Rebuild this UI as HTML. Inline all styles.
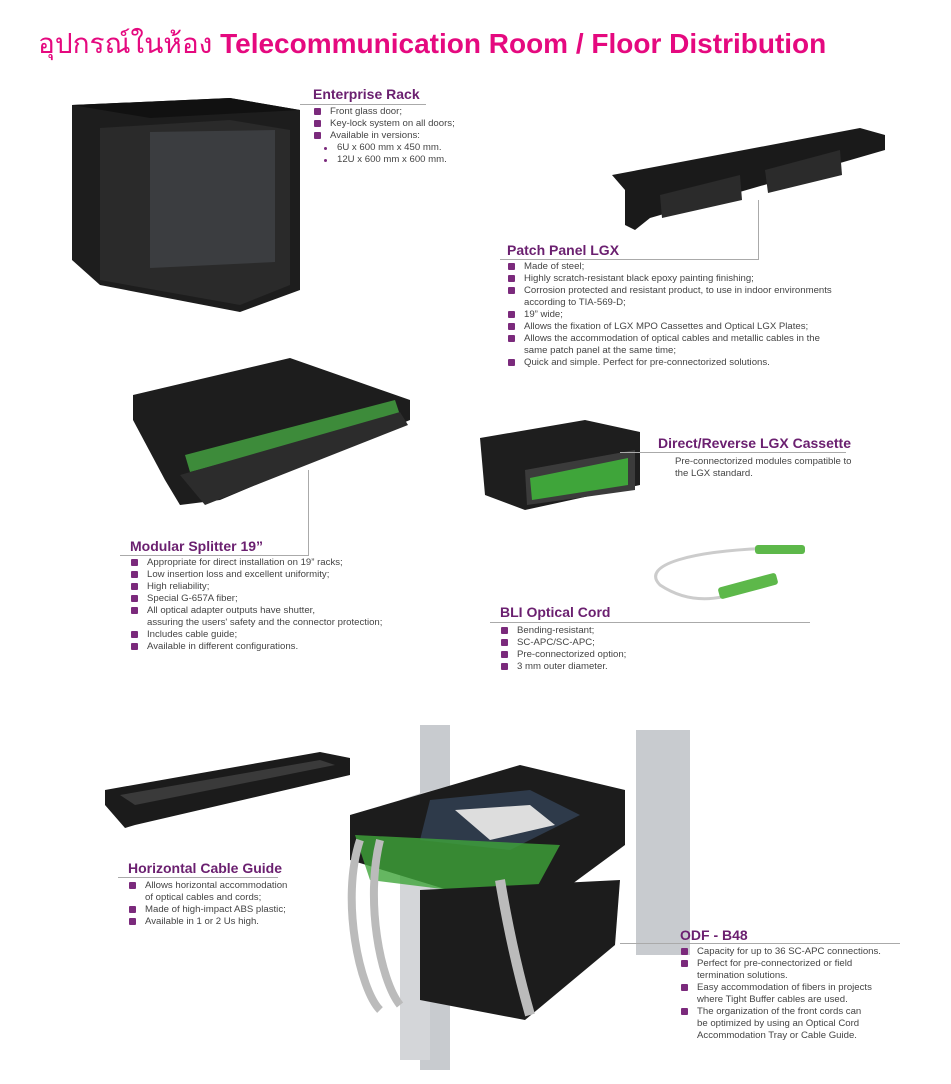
<!DOCTYPE html>
<html><head><meta charset="utf-8"><style>
body{margin:0;background:#fff;}
#p{position:relative;width:951px;height:1084px;overflow:hidden;font-family:"Liberation Sans","Noto Sans CJK SC",sans-serif;}
.t{position:absolute;left:38px;top:22px;font-size:28px;font-weight:bold;color:#e5097f;white-space:nowrap;font-family:"Liberation Sans","Noto Sans CJK SC","WenQuanYi Zen Hei",sans-serif;}
.t span{font-weight:normal;}
.h{position:absolute;font-size:14px;font-weight:bold;color:#6b2070;white-space:nowrap;}
.ln{position:absolute;background:#aaa;}
ul{position:absolute;margin:0;padding:0;list-style:none;font-size:9.6px;line-height:12px;color:#444;}
ul li{position:relative;padding-left:17px;white-space:nowrap;}
ul li.c:before{content:"";position:absolute;left:1px;top:2px;width:7px;height:7px;background:#7b2a7c;border-radius:1px;}
ul li.s{padding-left:24px;}
ul li.s:before{content:"";position:absolute;left:11px;top:5px;width:3px;height:3px;background:#7b2a7c;border-radius:50%;}
svg{position:absolute;left:0;top:0;}
</style></head><body><div id="p">
<svg width="951" height="1084">
<polygon points="72,105 230,98 300,110 300,290 240,312 100,285 72,260" fill="#1d1d1d"/>
<polygon points="100,128 230,120 290,130 290,285 240,305 100,280" fill="#2a2a2a"/>
<polygon points="150,132 275,130 275,262 150,268" fill="#3b3d40"/>
<polygon points="72,105 230,98 300,110 150,118" fill="#111"/>
<polygon points="612,175 860,128 885,135 885,150 650,218 635,230 625,225 625,190" fill="#1a1a1a"/>
<polygon points="660,195 740,175 742,200 662,218" fill="#2b2b2b"/>
<polygon points="765,170 840,150 842,175 768,193" fill="#2b2b2b"/>
<polygon points="133,395 290,358 410,400 410,420 220,500 180,505 165,480 133,420" fill="#1d1d1d"/>
<polygon points="185,455 395,400 400,415 190,472" fill="#3d8b3a"/>
<polygon points="180,475 400,412 408,425 205,505" fill="#2c2c2c"/>
<polygon points="480,438 585,420 640,432 640,485 525,510 485,495" fill="#1e1e1e"/>
<polygon points="525,470 635,450 635,490 527,505" fill="#3b3b3b"/>
<polygon points="530,478 628,458 628,485 532,500" fill="#3fa53a"/>
<path d="M780,548 C690,550 640,565 660,585 C690,605 720,600 745,590" stroke="#ccc" stroke-width="3" fill="none"/>
<rect x="755" y="545" width="50" height="9" fill="#5db84a" rx="3"/>
<rect x="718" y="580" width="60" height="12" fill="#5db84a" rx="3" transform="rotate(-15 748 586)"/>
<polygon points="105,790 320,752 350,758 350,775 135,825 125,828 105,805" fill="#1b1b1b"/>
<polygon points="120,795 320,760 335,765 135,805" fill="#3a3a3a"/>
<polygon points="420,725 450,725 450,1070 420,1070" fill="#c8cbcf"/>
<polygon points="636,730 690,730 690,955 636,955" fill="#c8cbcf"/>
<polygon points="400,800 430,790 430,1060 400,1060" fill="#d4d6d9"/>
<polygon points="350,815 520,765 625,790 625,845 530,915 350,860" fill="#1c1c1c"/>
<polygon points="430,800 530,790 580,815 510,850 420,840" fill="#2e3a4a"/>
<polygon points="455,810 530,805 555,825 490,840" fill="#ddd"/>
<polygon points="355,835 560,845 530,900 370,880" fill="#3fa53a" opacity="0.8"/>
<polygon points="420,890 620,880 615,945 525,1020 420,1000" fill="#1c1c1c"/>
<path d="M360,840 C340,900 360,990 380,1010 M380,840 C365,900 380,980 400,1005" stroke="#bbb" stroke-width="8" fill="none"/>
<path d="M500,880 C510,940 520,980 530,1015" stroke="#bbb" stroke-width="10" fill="none"/>
</svg>

<div class="t"><span>อุปกรณ์ในห้อง</span> Telecommunication Room / Floor Distribution</div>

<div class="h" style="left:313px;top:86px">Enterprise Rack</div>
<div class="ln" style="left:300px;top:104px;width:126px;height:1px"></div>
<ul style="left:313px;top:106px"><li class="c">Front glass door;</li><li class="c">Key-lock system on all doors;</li><li class="c">Available in versions:</li><li class="s">6U x 600 mm x 450 mm.</li><li class="s">12U x 600 mm x 600 mm.</li></ul>

<div class="ln" style="left:758px;top:200px;width:1px;height:59px"></div>
<div class="h" style="left:507px;top:242px">Patch Panel LGX</div>
<div class="ln" style="left:500px;top:259px;width:259px;height:1px"></div>
<ul style="left:507px;top:261px"><li class="c">Made of steel;</li><li class="c">Highly scratch-resistant black epoxy painting finishing;</li><li class="c">Corrosion protected and resistant product, to use in indoor environments<br>according to TIA-569-D;</li><li class="c">19” wide;</li><li class="c">Allows the fixation of LGX MPO Cassettes and Optical LGX Plates;</li><li class="c">Allows the accommodation of optical cables and metallic cables in the<br>same patch panel at the same time;</li><li class="c">Quick and simple. Perfect for pre-connectorized solutions.</li></ul>

<div class="ln" style="left:308px;top:470px;width:1px;height:86px"></div>
<div class="h" style="left:130px;top:538px">Modular Splitter 19”</div>
<div class="ln" style="left:120px;top:555px;width:189px;height:1px"></div>
<ul style="left:130px;top:557px"><li class="c">Appropriate for direct installation on 19” racks;</li><li class="c">Low insertion loss and excellent uniformity;</li><li class="c">High reliability;</li><li class="c">Special G-657A fiber;</li><li class="c">All optical adapter outputs have shutter,<br>assuring the users' safety and the connector protection;</li><li class="c">Includes cable guide;</li><li class="c">Available in different configurations.</li></ul>

<div class="h" style="left:658px;top:435px">Direct/Reverse LGX Cassette</div>
<div class="ln" style="left:620px;top:452px;width:226px;height:1px"></div>
<ul style="left:658px;top:456px"><li>Pre-connectorized modules compatible to<br>the LGX standard.</li></ul>

<div class="h" style="left:500px;top:604px">BLI Optical Cord</div>
<div class="ln" style="left:490px;top:622px;width:320px;height:1px"></div>
<ul style="left:500px;top:625px"><li class="c">Bending-resistant;</li><li class="c">SC-APC/SC-APC;</li><li class="c">Pre-connectorized option;</li><li class="c">3 mm outer diameter.</li></ul>

<div class="h" style="left:128px;top:860px">Horizontal Cable Guide</div>
<div class="ln" style="left:118px;top:877px;width:160px;height:1px"></div>
<ul style="left:128px;top:880px"><li class="c">Allows horizontal accommodation<br>of optical cables and cords;</li><li class="c">Made of high-impact ABS plastic;</li><li class="c">Available in 1 or 2 Us high.</li></ul>

<div class="h" style="left:680px;top:927px">ODF - B48</div>
<div class="ln" style="left:620px;top:943px;width:280px;height:1px"></div>
<ul style="left:680px;top:946px"><li class="c">Capacity for up to 36 SC-APC connections.</li><li class="c">Perfect for pre-connectorized or field<br>termination solutions.</li><li class="c">Easy accommodation of fibers in projects<br>where Tight Buffer cables are used.</li><li class="c">The organization of the front cords can<br>be optimized by using an Optical Cord<br>Accommodation Tray or Cable Guide.</li></ul>
</div></body></html>
